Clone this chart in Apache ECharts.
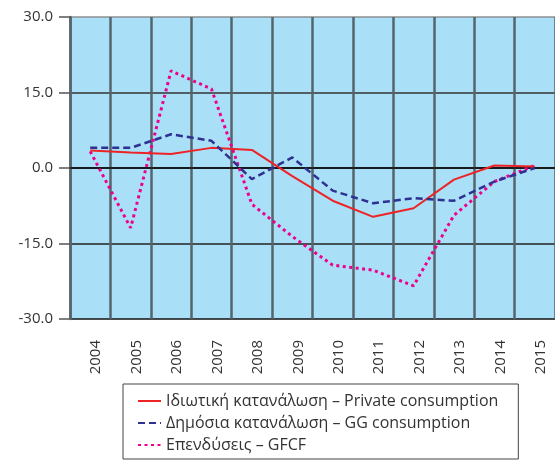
<!DOCTYPE html>
<html>
<head>
<meta charset="utf-8">
<script src="https://cdn.jsdelivr.net/npm/echarts@6/dist/echarts.min.js"></script>
<style>
html,body{margin:0;padding:0;background:#fff;}
#chart{width:555px;height:462px;}
</style>
</head>
<body>
<div id="chart"></div>
<script>
var years = ['2004','2005','2006','2007','2008','2009','2010','2011','2012','2013','2014','2015'];
var privateCons = [3.5, 3.1, 2.8, 4.0, 3.6, -1.6, -6.5, -9.7, -8.0, -2.3, 0.5, 0.3];
var ggCons = [4.0, 4.0, 6.7, 5.4, -2.2, 2.1, -4.5, -7.0, -6.0, -6.5, -2.7, 0.0];
var gfcf = [3.3, -11.9, 19.3, 15.7, -7.2, -13.6, -19.3, -20.3, -23.4, -9.4, -2.7, 0.5];
var names = ['Ιδιωτική κατανάλωση – Private consumption', 'Δημόσια κατανάλωση – GG consumption', 'Επενδύσεις – GFCF'];
var yTicks = [-30, -15, 0, 15, 30];

var chart = echarts.init(document.getElementById('chart'), null, {renderer: 'canvas'});
var font = 'Open Sans';
chart.setOption({
  animation: false,
  backgroundColor: '#ffffff',
  grid: {
    left: 70, top: 17, width: 492, height: 302,
    show: true, backgroundColor: '#aadff8', borderWidth: 0,
    containLabel: false
  },
  xAxis: {
    type: 'category',
    data: years,
    boundaryGap: true,
    axisLine: {show: true, lineStyle: {color: '#111', width: 1.5}},
    axisTick: {show: false},
    splitLine: {show: true, interval: 0, lineStyle: {color: '#56646b', width: 2.5}},
    axisLabel: {
      interval: 0, rotate: 90, margin: 21,
      fontFamily: font, fontSize: 15, color: '#333',
      verticalAlign: 'top', lineHeight: 12
    }
  },
  yAxis: {
    type: 'value',
    min: yTicks[0], max: yTicks[yTicks.length - 1], interval: 15,
    axisLine: {show: true, lineStyle: {color: '#56646b', width: 2.5}},
    axisTick: {show: true, length: 11, lineStyle: {color: '#555', width: 1.5}},
    splitLine: {show: true, lineStyle: {color: ['#111', '#222', '#000', '#333', '#8a8f92'], width: 1.5}},
    axisLabel: {
      margin: 17, fontFamily: font, fontSize: 15, color: '#333',
      formatter: function (v) { return v.toFixed(1); }
    }
  },
  legend: {
    orient: 'vertical',
    left: 123, top: 384,
    width: 395,
    padding: [9, 20, 6, 14],
    borderColor: '#444', borderWidth: 1,
    itemWidth: 23, itemHeight: 10, itemGap: 6,
    itemStyle: {opacity: 0},
    textStyle: {fontFamily: font, fontSize: 16, color: '#333'},
    data: names
  },
  series: [
    {
      name: names[0], type: 'line', data: privateCons, symbol: 'none', z: 3,
      lineStyle: {color: '#ee2326', width: 2, type: 'solid'},
      itemStyle: {color: '#ee2326'}
    },
    {
      name: names[1], type: 'line', data: ggCons, symbol: 'none', z: 4,
      lineStyle: {color: '#2e3192', width: 2.5, type: [7, 4]},
      itemStyle: {color: '#2e3192'}
    },
    {
      name: names[2], type: 'line', data: gfcf, symbol: 'none', z: 2,
      lineStyle: {color: '#ec008c', width: 3, type: [3, 3.5]},
      itemStyle: {color: '#ec008c'}
    }
  ]
});
</script>
</body>
</html>
